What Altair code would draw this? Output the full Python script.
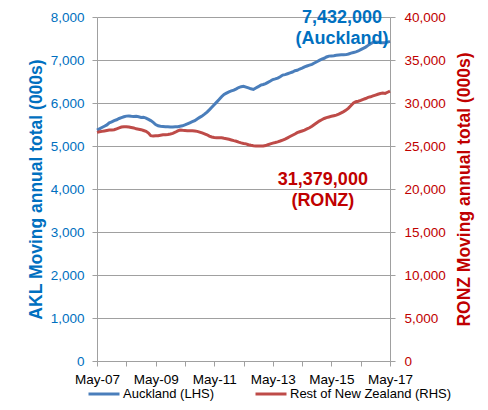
import altair as alt
import pandas as pd

# Monthly moving annual totals (000s), May-2007 .. May-2017
auckland = [
    5370, 5400, 5430, 5460, 5490, 5540, 5560, 5590, 5610, 5640, 5660, 5680,
    5695, 5700, 5690, 5685, 5690, 5680, 5665, 5670, 5650, 5620, 5590, 5550,
    5500, 5470, 5460, 5455, 5450, 5445, 5440, 5440, 5445, 5450, 5460, 5470,
    5490, 5515, 5540, 5565, 5590, 5630, 5665, 5700, 5740, 5790, 5840, 5900,
    5960, 6020, 6080, 6145, 6200, 6230, 6260, 6280, 6300, 6330, 6360, 6380,
    6390, 6370, 6350, 6330, 6315, 6350, 6380, 6415, 6430, 6450, 6480, 6510,
    6545, 6560, 6580, 6610, 6650, 6660, 6680, 6700, 6720, 6750, 6760, 6790,
    6810, 6840, 6860, 6880, 6900, 6930, 6960, 6990, 7020, 7040, 7070, 7090,
    7095, 7100, 7110, 7115, 7120, 7120, 7125, 7140, 7160, 7175, 7190, 7210,
    7240, 7270, 7300, 7340, 7380, 7410, 7420, 7415, 7400, 7400, 7405, 7415,
    7432,
]
ronz = [
    26580, 26650, 26700, 26750, 26800, 26850, 26870, 26900, 27000, 27100, 27200, 27240,
    27250, 27200, 27150, 27100, 27000, 26950, 26900, 26800, 26700, 26500, 26200, 26150,
    26180, 26200, 26250, 26300, 26320, 26350, 26400, 26470, 26600, 26750, 26850, 26820,
    26800, 26780, 26770, 26760, 26750, 26700, 26620, 26520, 26420, 26300, 26150, 26050,
    25980, 25960, 25970, 25960, 25900, 25850, 25780, 25700, 25620, 25550, 25450, 25360,
    25300, 25250, 25150, 25080, 25030, 25000, 25000, 24990, 24990, 25050, 25150, 25250,
    25330, 25400, 25480, 25580, 25690, 25800, 25950, 26100, 26250, 26400, 26550, 26660,
    26750, 26850, 26980, 27120, 27300, 27500, 27700, 27900, 28050, 28200, 28300, 28380,
    28450, 28520, 28590, 28700, 28850, 29000, 29170, 29400, 29700, 30000, 30140, 30200,
    30300, 30420, 30520, 30650, 30720, 30820, 30920, 31020, 31110, 31150, 31120, 31250,
    31379,
]
series_names = ["Auckland (LHS)", "Rest of New Zealand (RHS)"]
series_colors = ["#4A7EBB", "#BE4B48"]

akl_labels = ["7,432,000", "(Auckland)"]
akl_label_dates = ["2015-09-10", "2015-09-10"]
akl_label_vals = [7980, 7500]
ronz_labels = ["31,379,000", "(RONZ)"]
ronz_label_dates = ["2015-01-15", "2015-01-15"]
ronz_label_vals = [21100, 18550]

dates = pd.date_range("2007-05-01", periods=len(auckland), freq="MS")
akl_df = pd.DataFrame({"date": dates, "value": auckland, "series": series_names[0]})
ronz_df = pd.DataFrame({"date": dates, "value": ronz, "series": series_names[1]})
akl_ann = pd.DataFrame({"date": pd.to_datetime(akl_label_dates), "value": akl_label_vals, "label": akl_labels})
ronz_ann = pd.DataFrame({"date": pd.to_datetime(ronz_label_dates), "value": ronz_label_vals, "label": ronz_labels})

FONT = "Liberation Sans"
BLUE_TXT = "#0070C0"
RED_TXT = "#C00000"
GRID = "#A0A0A0"

year_ticks = [alt.DateTime(year=y, month=5, date=1) for y in range(2007, 2018)]
x_enc = alt.X(
    "date:T",
    scale=alt.Scale(domain=[alt.DateTime(year=2007, month=5, date=1), alt.DateTime(year=2017, month=5, date=1)]),
    axis=alt.Axis(
        values=year_ticks,
        labelExpr="year(datum.value) % 2 == 1 ? timeFormat(datum.value, '%b-%y') : ''",
        grid=False, tickSize=5, labelPadding=6, title=None,
        domainColor=GRID, tickColor=GRID, labelColor="#000000",
        labelFont=FONT, labelFontSize=13.5, labelFlush=False,
    ),
)

color_enc = alt.Color(
    "series:N",
    scale=alt.Scale(domain=series_names, range=series_colors),
    legend=alt.Legend(
        orient="none", legendX=-10, legendY=360, direction="horizontal", title=None,
        symbolType="stroke", symbolSize=961, symbolStrokeWidth=3, labelOffset=2,
        labelFont=FONT, labelFontSize=13, labelColor="#000000", columnPadding=34,
        labelLimit=400,
    ),
)

y_left = alt.Y(
    "value:Q",
    scale=alt.Scale(domain=[0, 8000]),
    axis=alt.Axis(
        values=list(range(0, 8001, 1000)), format=",.0f", orient="left",
        grid=True, gridColor=GRID, tickSize=5, labelPadding=8,
        domainColor=GRID, tickColor=GRID,
        labelColor=BLUE_TXT, labelFont=FONT, labelFontSize=13.5,
        title="AKL Moving annual total (000s)", titleColor=BLUE_TXT,
        titleFont=FONT, titleFontSize=17.5, titleFontWeight="bold", titlePadding=5,
    ),
)
y_right = alt.Y(
    "value:Q",
    scale=alt.Scale(domain=[0, 40000]),
    axis=alt.Axis(
        values=list(range(0, 40001, 5000)), format=",.0f", orient="right",
        grid=False, tickSize=5, labelPadding=9,
        domainColor=GRID, tickColor=GRID,
        labelColor=RED_TXT, labelFont=FONT, labelFontSize=13.5,
        title="RONZ Moving annual total (000s)", titleColor=RED_TXT, titleAngle=270,
        titleFont=FONT, titleFontSize=17.5, titleFontWeight="bold", titlePadding=28,
    ),
)

akl_line = alt.Chart(akl_df).mark_line(strokeWidth=3).encode(x=x_enc, y=y_left, color=color_enc)
akl_text = alt.Chart(akl_ann).mark_text(
    font=FONT, fontSize=18, fontWeight="bold", color=BLUE_TXT, baseline="middle", align="center"
).encode(x=x_enc, y=y_left, text="label:N")

ronz_line = alt.Chart(ronz_df).mark_line(strokeWidth=3).encode(x=x_enc, y=y_right, color=color_enc)
ronz_text = alt.Chart(ronz_ann).mark_text(
    font=FONT, fontSize=18, fontWeight="bold", color=RED_TXT, baseline="middle", align="center"
).encode(x=x_enc, y=y_right, text="label:N")

left = alt.layer(akl_line, akl_text)
right = alt.layer(ronz_line, ronz_text)

chart = (
    alt.layer(left, right)
    .resolve_scale(y="independent")
    .properties(
        width=293, height=344,
        autosize=alt.AutoSizeParams(type="none"),
        padding={"left": 89, "top": 9, "right": 90, "bottom": 41},
        background="white",
    )
    .configure_view(stroke=None)
)

chart.save("out.html", embed_options={"renderer": "svg", "actions": False})
